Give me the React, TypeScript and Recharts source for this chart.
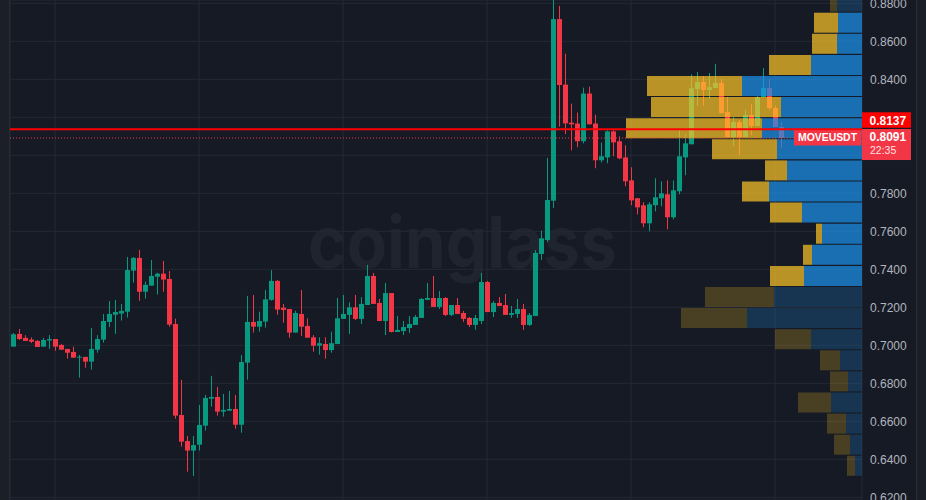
import { ComposedChart, BarChart, Bar, Cell, XAxis, YAxis, CartesianGrid, ReferenceLine } from "recharts";

const W = 926;
const H = 500;
const PLOT_LEFT = 10;
const AXIS_W = 64;
const PLOT_W = W - PLOT_LEFT - AXIS_W;

const UP = "#089981";
const DOWN = "#f23645";
const BG = "#161a25";
const GRID = "#242834";
const AXIS_TEXT = "#b2b5be";
const VP_BLUE = "#1b94ee";
const VP_YELLOW = "#ffc826";
const FONT = "'Liberation Sans', Arial, sans-serif";

const symbol = "MOVEUSDT";
const lastPrice = 0.8091;
const markPrice = 0.8137;
const countdown = "22:35";

const priceDomain: [number, number] = [0.61858, 0.88174];
const priceTicks = [0.62, 0.64, 0.66, 0.68, 0.7, 0.72, 0.74, 0.76, 0.78, 0.8, 0.82, 0.84, 0.86, 0.88];
// one vertical grid line per day (hourly candles)
const daySlots = [8, 32, 56, 80, 104, 128];
const SLOTS = 142;

const opens = [
  0.6993, 0.7060, 0.7039, 0.7030, 0.7023, 0.6993, 0.7025, 0.7033, 0.7002, 0.6981,
  0.6965, 0.6935, 0.6939, 0.6914, 0.6977, 0.7030, 0.7123, 0.7161, 0.7167, 0.7177,
  0.7393, 0.7460, 0.7282, 0.7314, 0.7361, 0.7377, 0.7349, 0.7112, 0.6633, 0.6496,
  0.6446, 0.6477, 0.6577, 0.6719, 0.6728, 0.6651, 0.6656, 0.6665, 0.6582, 0.6909,
  0.7123, 0.7098, 0.7125, 0.7239, 0.7339, 0.7198, 0.7191, 0.7067, 0.7165, 0.7102,
  0.7042, 0.6998, 0.7007, 0.6975, 0.7007, 0.7139, 0.7160, 0.7200, 0.7139, 0.7212,
  0.7365, 0.7223, 0.7128, 0.7275, 0.7070, 0.7075, 0.7091, 0.7107, 0.7144, 0.7239,
  0.7249, 0.7202, 0.7249, 0.7160, 0.7212, 0.7170, 0.7144, 0.7107, 0.7128, 0.7333,
  0.7175, 0.7223, 0.7212, 0.7160, 0.7165, 0.7191, 0.7107, 0.7154, 0.7481, 0.7554,
  0.7761, 0.8717, 0.8372, 0.8172, 0.8167, 0.8074, 0.8325, 0.8167, 0.7974, 0.7989,
  0.8126, 0.8074, 0.7989, 0.7868, 0.7774, 0.7737, 0.7642, 0.7737, 0.7774, 0.7795,
  0.7674, 0.7811, 0.7989, 0.8058, 0.8349, 0.8386, 0.8344, 0.8354, 0.8381, 0.8228,
  0.8096, 0.8175, 0.8096, 0.8212, 0.8154, 0.8307, 0.8354, 0.8249, 0.8149,
];
const highs = [
  0.7065, 0.7086, 0.7053, 0.7042, 0.7028, 0.7039, 0.7054, 0.7033, 0.7007, 0.6981,
  0.6993, 0.6949, 0.6939, 0.7091, 0.7053, 0.7165, 0.7233, 0.7239, 0.7218, 0.7465,
  0.7465, 0.7502, 0.7335, 0.7449, 0.7382, 0.7444, 0.7391, 0.7140, 0.6818, 0.6523,
  0.6523, 0.6686, 0.6739, 0.6839, 0.6781, 0.6744, 0.6760, 0.6739, 0.6949, 0.7260,
  0.7265, 0.7177, 0.7291, 0.7396, 0.7344, 0.7218, 0.7191, 0.7182, 0.7291, 0.7142,
  0.7054, 0.7042, 0.7042, 0.7072, 0.7249, 0.7265, 0.7226, 0.7265, 0.7253, 0.7423,
  0.7381, 0.7244, 0.7328, 0.7275, 0.7154, 0.7128, 0.7154, 0.7160, 0.7249, 0.7328,
  0.7365, 0.7286, 0.7254, 0.7212, 0.7249, 0.7181, 0.7149, 0.7160, 0.7381, 0.7339,
  0.7233, 0.7254, 0.7270, 0.7207, 0.7244, 0.7218, 0.7170, 0.7501, 0.7603, 0.7986,
  0.8866, 0.8786, 0.8535, 0.8272, 0.8225, 0.8356, 0.8361, 0.8214, 0.8067, 0.8132,
  0.8132, 0.8100, 0.8053, 0.7937, 0.7774, 0.7753, 0.7753, 0.7879, 0.7863, 0.7868,
  0.7868, 0.8132, 0.8111, 0.8426, 0.8438, 0.8417, 0.8433, 0.8481, 0.8401, 0.8307,
  0.8201, 0.8186, 0.8238, 0.8270, 0.8312, 0.8459, 0.8401, 0.8259, 0.8175,
];
const lows = [
  0.6993, 0.7028, 0.7023, 0.7012, 0.6991, 0.6993, 0.6981, 0.6972, 0.6977, 0.6930,
  0.6935, 0.6830, 0.6882, 0.6872, 0.6961, 0.7014, 0.7096, 0.7060, 0.7130, 0.7146,
  0.7330, 0.7235, 0.7246, 0.7314, 0.7267, 0.7282, 0.7098, 0.6614, 0.6467, 0.6335,
  0.6312, 0.6446, 0.6551, 0.6677, 0.6630, 0.6625, 0.6656, 0.6561, 0.6540, 0.6819,
  0.7067, 0.7072, 0.7093, 0.7235, 0.7161, 0.7119, 0.7040, 0.7067, 0.7049, 0.7040,
  0.6967, 0.6951, 0.6930, 0.6961, 0.7007, 0.7139, 0.7060, 0.7133, 0.7112, 0.7212,
  0.7218, 0.7128, 0.7054, 0.7068, 0.7070, 0.7054, 0.7065, 0.7107, 0.7144, 0.7239,
  0.7202, 0.7191, 0.7154, 0.7154, 0.7165, 0.7123, 0.7096, 0.7081, 0.7112, 0.7175,
  0.7149, 0.7207, 0.7160, 0.7144, 0.7144, 0.7081, 0.7102, 0.7154, 0.7449, 0.7544,
  0.7723, 0.8151, 0.8112, 0.8026, 0.8042, 0.8063, 0.8163, 0.7932, 0.7963, 0.7958,
  0.7995, 0.7979, 0.7837, 0.7737, 0.7689, 0.7621, 0.7600, 0.7705, 0.7732, 0.7611,
  0.7663, 0.7795, 0.7895, 0.8058, 0.8261, 0.8261, 0.8296, 0.8354, 0.8222, 0.8096,
  0.8049, 0.8002, 0.8096, 0.8107, 0.8154, 0.8307, 0.8238, 0.8149, 0.8040,
];
const closes = [
  0.7058, 0.7033, 0.7023, 0.7019, 0.6991, 0.7028, 0.7033, 0.6993, 0.6977, 0.6961,
  0.6935, 0.6940, 0.6914, 0.6981, 0.7033, 0.7128, 0.7165, 0.7175, 0.7181, 0.7396,
  0.7460, 0.7282, 0.7318, 0.7365, 0.7377, 0.7346, 0.7109, 0.6630, 0.6493, 0.6446,
  0.6475, 0.6581, 0.6723, 0.6728, 0.6651, 0.6660, 0.6665, 0.6582, 0.6912, 0.7123,
  0.7098, 0.7128, 0.7242, 0.7339, 0.7188, 0.7186, 0.7067, 0.7170, 0.7098, 0.7040,
  0.6998, 0.7011, 0.6975, 0.7011, 0.7142, 0.7165, 0.7200, 0.7139, 0.7218, 0.7365,
  0.7218, 0.7128, 0.7275, 0.7070, 0.7081, 0.7096, 0.7112, 0.7149, 0.7244, 0.7249,
  0.7202, 0.7249, 0.7160, 0.7212, 0.7165, 0.7139, 0.7107, 0.7144, 0.7333, 0.7175,
  0.7223, 0.7207, 0.7160, 0.7170, 0.7191, 0.7107, 0.7160, 0.7486, 0.7563, 0.7765,
  0.8717, 0.8370, 0.8168, 0.8163, 0.8074, 0.8325, 0.8163, 0.7974, 0.7995, 0.8126,
  0.8068, 0.7984, 0.7863, 0.7763, 0.7726, 0.7642, 0.7742, 0.7779, 0.7800, 0.7674,
  0.7816, 0.7995, 0.8063, 0.8353, 0.8386, 0.8344, 0.8359, 0.8381, 0.8222, 0.8096,
  0.8175, 0.8096, 0.8212, 0.8154, 0.8307, 0.8354, 0.8249, 0.8149, 0.8091,
];

// volume profile, top row first
const profileLevels = [
  0.8811, 0.8700, 0.8589, 0.8478, 0.8367, 0.8256, 0.8145, 0.8034, 0.7923, 0.7812, 0.7701, 0.7590,
  0.7479, 0.7368, 0.7257, 0.7146, 0.7035, 0.6924, 0.6813, 0.6702, 0.6591, 0.6480, 0.6369,
];
const upVolume = [25, 24, 25, 51, 120, 81, 100, 85, 75, 93, 60, 40, 50, 58, 88, 115, 51, 22, 14, 31, 16, 12, 7];
const downVolume = [7, 24, 25, 42, 95, 130, 136, 65, 22, 27, 32, 6, 9, 34, 69, 66, 36, 20, 18, 33, 19, 16, 8];
const valueAreaRows = [1, 13];

const candles = Array.from({ length: SLOTS }, (_, i) =>
  i < opens.length
    ? { slot: i + 1, open: opens[i], high: highs[i], low: lows[i], close: closes[i], range: [lows[i], highs[i]] }
    : { slot: i + 1 }
);

const profileRows = profileLevels.map((level, i) => ({
  level,
  up: upVolume[i],
  down: downVolume[i],
  inValueArea: i >= valueAreaRows[0] && i <= valueAreaRows[1],
}));

const CandleShape = (props: any) => {
  const { x, y, width, height, payload } = props;
  if (!payload || payload.open == null || !height) return null;
  const { open, high, low, close } = payload;
  const color = close >= open ? UP : DOWN;
  const k = height / (high - low);
  const bx = Math.round(x);
  const bw = Math.round(width);
  const bodyTop = y + (high - Math.max(open, close)) * k;
  const bodyH = Math.max(1, Math.abs(close - open) * k);
  return (
    <g>
      <rect x={bx + Math.floor(bw / 2)} y={y} width={1} height={height} fill={color} />
      <rect x={bx} y={bodyTop} width={bw} height={bodyH} fill={color} />
    </g>
  );
};

// price scale labels that sit under the price tags are left out
const PriceTick = (props: any) => {
  const { x, y, payload } = props;
  const v = payload.value as number;
  if (Math.abs(v - markPrice) < 0.009 || Math.abs(v - lastPrice) < 0.012) return null;
  return (
    <text x={x} y={y} dy="0.355em" fill={AXIS_TEXT} fontSize={12} fontFamily={FONT}>
      {v.toFixed(4)}
    </text>
  );
};

const MarkTag = ({ viewBox }: any) => {
  if (!viewBox) return null;
  const right = viewBox.x + viewBox.width;
  const y = viewBox.y;
  return (
    <g>
      <rect x={right} y={y - 17} width={49} height={15.5} fill="#ff0000" />
      <text x={right + 7.5} y={y - 4.3} fill="#ffffff" fontSize={12} fontWeight={700} fontFamily={FONT}>
        {markPrice.toFixed(4)}
      </text>
    </g>
  );
};

const LastTag = ({ viewBox }: any) => {
  if (!viewBox) return null;
  const right = viewBox.x + viewBox.width;
  const y = viewBox.y;
  return (
    <g>
      <rect x={right - 68} y={y - 9} width={67.5} height={16.5} fill={DOWN} />
      <text x={right - 34.5} y={y + 2.7} textAnchor="middle" fill="#ffffff" fontSize={11.5} fontWeight={700} fontFamily={FONT} textLength={59} lengthAdjust="spacingAndGlyphs">
        {symbol}
      </text>
      <rect x={right} y={y - 9} width={49} height={31} fill={DOWN} />
      <text x={right + 7.5} y={y + 2.7} fill="#ffffff" fontSize={12} fontWeight={700} fontFamily={FONT}>
        {lastPrice.toFixed(4)}
      </text>
      <text x={right + 8} y={y + 16.3} fill="#ffe1e4" fontSize={10.5} fontFamily={FONT}>
        {countdown}
      </text>
    </g>
  );
};

export default function App() {
  return (
    <div style={{ position: "fixed", left: 0, top: 0, width: W, height: H, overflow: "hidden", background: BG }}>
      <div style={{ position: "absolute", left: 0, top: 0, width: 9, height: H, background: "#1c1f28" }} />
      <div style={{ position: "absolute", left: 9, top: 0, width: 1, height: H, background: "#2a2e39" }} />
      <div style={{ position: "absolute", left: 916, top: 0, width: 10, height: H, background: "#1c1f28" }} />
      <div style={{ position: "absolute", left: 916, top: 0, width: 1, height: H, background: "#2a2e39" }} />

      <svg width={W} height={H} style={{ position: "absolute", left: 0, top: 0 }}>
        <text x={462.5} y={268} textAnchor="middle" fontSize={72} fontWeight={700} fontFamily="Inter, 'Open Sans', sans-serif" fill="#20242f" textLength={309} lengthAdjust="spacingAndGlyphs">
          coinglass
        </text>
      </svg>

      <div style={{ position: "absolute", left: 0, top: 0 }}>
        <ComposedChart width={W} height={H} data={candles} margin={{ top: 0, right: 0, bottom: 0, left: PLOT_LEFT }}>
          <CartesianGrid stroke={GRID} />
          <XAxis dataKey="slot" hide ticks={daySlots} interval={0} />
          <YAxis
            type="number"
            orientation="right"
            width={AXIS_W}
            domain={priceDomain}
            allowDataOverflow
            ticks={priceTicks}
            interval={0}
            axisLine={false}
            tickLine={false}
            tick={<PriceTick />}
          />
          <Bar dataKey="range" barSize={5} shape={CandleShape} isAnimationActive={false} />
        </ComposedChart>
      </div>

      <div style={{ position: "absolute", left: PLOT_LEFT, top: -9.4 }}>
        <BarChart width={PLOT_W} height={485.3} data={profileRows} layout="vertical" margin={{ top: 0, right: 0, bottom: 0, left: 0 }} barCategoryGap={0.6}>
          <XAxis type="number" domain={[0, PLOT_W]} reversed hide />
          <YAxis type="category" dataKey="level" hide />
          <Bar dataKey="up" stackId="vp" fill={VP_BLUE} isAnimationActive={false}>
            {profileRows.map((r, i) => (
              <Cell key={i} fillOpacity={r.inValueArea ? 0.7 : 0.22} />
            ))}
          </Bar>
          <Bar dataKey="down" stackId="vp" fill={VP_YELLOW} isAnimationActive={false}>
            {profileRows.map((r, i) => (
              <Cell key={i} fillOpacity={r.inValueArea ? 0.7 : 0.22} />
            ))}
          </Bar>
        </BarChart>
      </div>

      <div style={{ position: "absolute", left: 0, top: 0 }}>
        <ComposedChart width={W} height={H} data={candles} margin={{ top: 0, right: AXIS_W, bottom: 0, left: PLOT_LEFT }}>
          <XAxis dataKey="slot" hide />
          <YAxis type="number" domain={priceDomain} allowDataOverflow hide />
          <ReferenceLine y={lastPrice} stroke={DOWN} strokeDasharray="1 2" label={(p: any) => <LastTag viewBox={p.viewBox} />} />
          <ReferenceLine y={markPrice} stroke="#ff0000" strokeWidth={2} label={(p: any) => <MarkTag viewBox={p.viewBox} />} />
        </ComposedChart>
      </div>
    </div>
  );
}
